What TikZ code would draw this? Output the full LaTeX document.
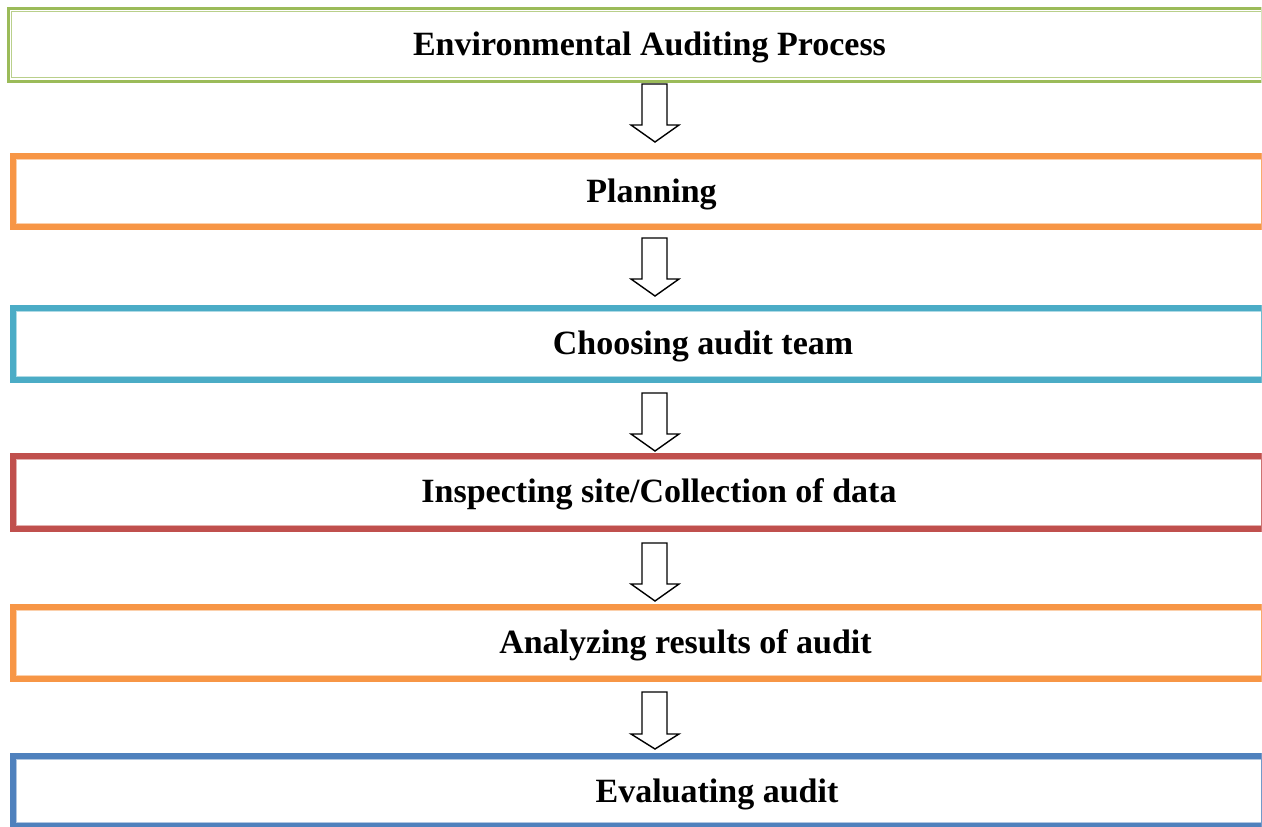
\documentclass[tikz,border=0pt]{standalone}
\usepackage{fontspec}
\setmainfont{Liberation Serif}
\definecolor{cgreen}{HTML}{9BBB59}
\definecolor{corange}{HTML}{F79646}
\definecolor{cteal}{HTML}{4BACC6}
\definecolor{cred}{HTML}{C0504D}
\definecolor{cblue}{HTML}{4F81BD}
\tikzset{
  label/.style={anchor=base, inner sep=0pt, font=\fontsize{34}{40}\selectfont\bfseries},
  blockarrow/.style={draw=black, line width=1.4pt, fill=white, line join=miter},
  frame/.style={inner sep=0pt, outer sep=0pt, draw=none}
}
% framed step box: thick band on left/top/bottom, thin line on the right
\newcommand{\stepframe}[4]{% name, colour, top, bottom
  \node[frame, minimum width=1252pt, minimum height={(#4-#3)*1pt}, anchor=north west] (#1) at (10,#3) {};
  \draw[#2, line width=6pt, line join=miter] (1262,#3+3) -- (13,#3+3) -- (13,#4-3) -- (1262,#4-3);
  \draw[#2!45, line width=0.8pt] (1262,#3+6.4) -- (16.4,#3+6.4) -- (16.4,#4-6.4) -- (1262,#4-6.4);
  \draw[#2!80, line width=1.4pt] (1261.3,#3) -- (1261.3,#4);
}
% hollow down arrow: top of shaft y, start of head y, tip y
\newcommand{\stepdownarrow}[4]{% name, top, head, tip
  \draw[blockarrow] (642,#2) -- (667,#2) -- (667,#3) -- (679,#3) -- (655,#4)
     -- (631,#3) -- (642,#3) -- cycle;
  \coordinate (#1) at (655,#4);
}
\begin{document}
\begin{tikzpicture}[x=1pt,y=-1pt]
\useasboundingbox (0,0) rectangle (1262,827);
\clip (0,0) rectangle (1262,827);

% title box with a double green rule
\node[frame, minimum width=1255pt, minimum height=75.5pt, anchor=north west] (b1) at (7,7) {};
\draw[cgreen, line width=3pt, line join=miter] (1262,8.5) -- (8.5,8.5) -- (8.5,81) -- (1262,81);
\draw[cgreen!70, line width=1pt] (1262,11.8) -- (11.8,11.8) -- (11.8,77.7) -- (1262,77.7);
\draw[cgreen!40, line width=1pt] (1261.3,7) -- (1261.3,82.5);

\stepframe{b2}{corange}{153}{230}
\stepframe{b3}{cteal}{305}{383}
\stepframe{b4}{cred}{453}{532}
\stepframe{b5}{corange}{604}{682}
\stepframe{b6}{cblue}{753}{829}

% labels
\node[label] (t1) at (649.5,55) {Environmental Auditing Process};
\node[label] (t2) at (651.5,202) {Planning};
\node[label] (t3) at (703,354) {Choosing audit team};
\node[label] (t4) at (659,502) {Inspecting site/Collection of data};
\node[label] (t5) at (685.5,653) {Analyzing results of audit};
\node[label] (t6) at (717,802) {Evaluating audit};

% arrows between steps
\stepdownarrow{a1}{84}{125}{142}
\stepdownarrow{a2}{238}{279}{296}
\stepdownarrow{a3}{393}{434}{451}
\stepdownarrow{a4}{543}{584}{601}
\stepdownarrow{a5}{692}{734}{749}
\end{tikzpicture}
\end{document}
